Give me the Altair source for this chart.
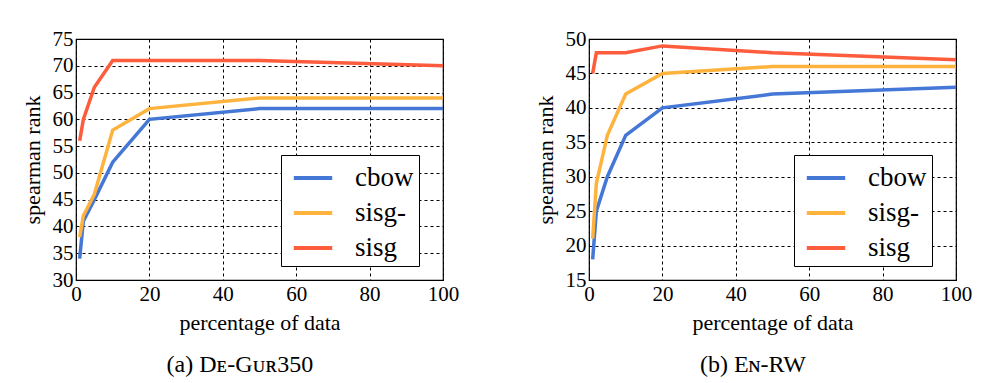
import altair as alt
import pandas as pd

pct = [1, 2, 5, 10, 20, 50, 100]
methods = ["cbow", "sisg-", "sisg"]
colors = ["#4477D6", "#FDB33D", "#FD5C3D"]

gur_cbow = [34, 41, 45, 52, 60, 62, 62]
gur_sisg_minus = [38, 42, 46, 58, 62, 64, 64]
gur_sisg = [56, 60, 66, 71, 71, 71, 70]

rw_cbow = [18, 25, 30, 36, 40, 42, 43]
rw_sisg_minus = [21, 29, 36, 42, 45, 46, 46]
rw_sisg = [45, 48, 48, 48, 49, 48, 47]

captions = ["(a) Dᴇ-Gᴜʀ350", "(b) Eɴ-RW"]
x_ticks = [0, 20, 40, 60, 80, 100]
gur_y_ticks = list(range(30, 80, 5))
rw_y_ticks = list(range(15, 55, 5))

SERIF = "Liberation Serif"


def frame(series):
    rows = []
    for m, vals in zip(methods, series):
        for p, v in zip(pct, vals):
            rows.append({"pct": p, "rank": v, "method": m})
    return pd.DataFrame(rows)


def panel(df, ydom, yticks, caption):
    return alt.Chart(df).mark_line(strokeWidth=3.5, strokeCap="butt").encode(
        x=alt.X("pct:Q", scale=alt.Scale(domain=[0, 100], nice=False),
                axis=alt.Axis(values=x_ticks, title="percentage of data",
                              labelFlush=False)),
        y=alt.Y("rank:Q", scale=alt.Scale(domain=ydom, nice=False, zero=False),
                axis=alt.Axis(values=yticks, title="spearman rank",
                              labelFlush=False)),
        color=alt.Color("method:N",
                        scale=alt.Scale(domain=methods, range=colors),
                        sort=methods,
                        legend=alt.Legend(title=None, orient="none",
                                          legendX=205, legendY=116,
                                          strokeColor="black", fillColor="white",
                                          padding=5, symbolType="M-1.2,0H1.2",
                                          symbolSize=1024, symbolStrokeWidth=4,
                                          symbolOffset=9,
                                          labelFont=SERIF,
                                          labelFontSize=27, labelColor="black",
                                          labelOffset=24, rowPadding=4,
                                          cornerRadius=0)),
    ).properties(
        width=367, height=241,
        title=alt.TitleParams(caption, orient="bottom", anchor="middle",
                              frame="bounds", font="Liberation Serif",
                              fontSize=24, fontWeight="normal", color="black",
                              offset=20),
    )


left = panel(frame([gur_cbow, gur_sisg_minus, gur_sisg]), [30, 75], gur_y_ticks, captions[0])
right = panel(frame([rw_cbow, rw_sisg_minus, rw_sisg]), [15, 50], rw_y_ticks, captions[1])

chart = alt.hconcat(left, right, spacing=73).resolve_scale(
    color="independent"
).resolve_legend(color="independent").properties(
    padding={"left": 12, "top": 19, "right": 5, "bottom": 5},
    background="white",
).configure_view(
    stroke="black", strokeWidth=1.2
).configure_axis(
    labelFont=SERIF, labelFontSize=21, labelColor="black",
    titleFont=SERIF, titleFontSize=22, titleFontWeight="normal",
    titleColor="black", tickSize=0, labelPadding=3, titlePadding=8,
    domain=False, grid=True, gridColor="black", gridDash=[3, 3],
    gridOpacity=1, gridWidth=1,
)

chart.save("out.html", embed_options={"renderer": "svg", "actions": False})
